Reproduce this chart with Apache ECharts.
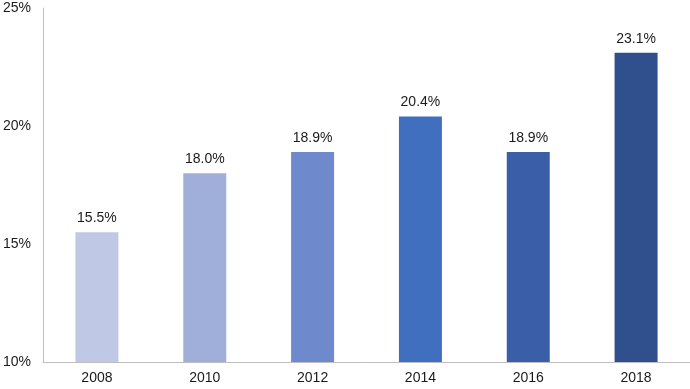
<!DOCTYPE html>
<html><head><meta charset="utf-8">
<script src="https://cdn.jsdelivr.net/npm/echarts@6/dist/echarts.min.js"></script>
<style>html,body{margin:0;padding:0;background:#fff}#c{width:690px;height:389px}</style>
</head><body><div id="c"></div>
<script>
var categories = ['2008','2010','2012','2014','2016','2018'];
var values = [15.5, 18.0, 18.9, 20.4, 18.9, 23.1];
var barColors = ['#BFC9E5','#9FAFD9','#6E89CC','#416FBF','#3A5EA7','#2F508D'];
var yTicks = [10, 15, 20, 25];

var chart = echarts.init(document.getElementById('c'), null, {renderer:'canvas'});
chart.setOption({
  animation:false,
  grid:{left:40,right:0,top:8,bottom:27,containLabel:false},
  xAxis:{type:'category',data:categories,
    axisLine:{lineStyle:{color:'#BFBFBF',width:1}},
    axisTick:{show:false},
    axisLabel:{color:'#1a1a1a',fontSize:14,fontFamily:'Liberation Sans, Arial',margin:9}},
  yAxis:{type:'value',min:yTicks[0],max:yTicks[yTicks.length-1],interval:5,
    axisLine:{show:true,lineStyle:{color:'#BFBFBF',width:1}},
    axisTick:{show:false},
    splitLine:{show:false},
    axisLabel:{color:'#1a1a1a',fontSize:14,fontFamily:'Liberation Sans, Arial',margin:12,formatter:'{value}%'}},
  series:[{type:'bar',barWidth:43,
    data:values.map(function(v,i){return {value:v,itemStyle:{color:barColors[i]}};}),
    label:{show:true,position:'top',distance:7,color:'#1a1a1a',fontSize:14,fontFamily:'Liberation Sans, Arial',
      formatter:function(p){return p.value.toFixed(1)+'%';}}}]
});
</script></body></html>
